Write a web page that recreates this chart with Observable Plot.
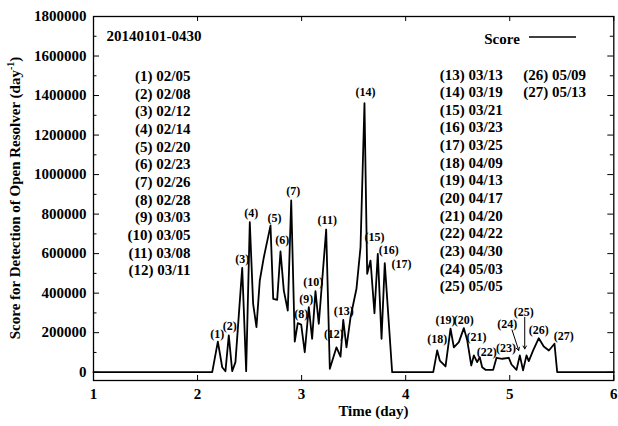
<!DOCTYPE html>
<html>
<head>
<meta charset="utf-8">
<script src="https://cdn.jsdelivr.net/npm/d3@7"></script>
<script src="https://cdn.jsdelivr.net/npm/@observablehq/plot@0.6"></script>
<style>
  html, body { margin: 0; padding: 0; background: white; }
  #chart { width: 618px; height: 426px; overflow: hidden; }
</style>
</head>
<body>
<div id="chart"></div>
<script>
// ---- data ----
const days = [1, 2.141, 2.195, 2.237, 2.268, 2.300, 2.333, 2.364, 2.429, 2.467,
  2.502, 2.534, 2.566, 2.598, 2.637, 2.701, 2.727, 2.765, 2.797, 2.829,
  2.867, 2.900, 2.934, 2.963, 2.996, 3.030, 3.069, 3.101, 3.133, 3.165,
  3.236, 3.271, 3.335, 3.374, 3.400, 3.431, 3.470, 3.527, 3.566, 3.604,
  3.630, 3.662, 3.700, 3.732, 3.768, 3.799, 3.870, 4.265, 4.303, 4.328,
  4.383, 4.431, 4.463, 4.511, 4.559, 4.592, 4.630, 4.655, 4.687, 4.712,
  4.735, 4.767, 4.841, 4.873, 4.928, 4.991, 5.017, 5.065, 5.097, 5.128,
  5.161, 5.183, 5.225, 5.279, 5.327, 5.376, 5.430, 5.456, 6];
const scores = [0, 0, 155000, 25000, 5000, 186000, 5000, 51000, 528000, 5000,
  759000, 346000, 228000, 464000, 582000, 742000, 371000, 366000, 611000, 413000,
  312000, 869000, 155000, 248000, 241000, 101000, 329000, 169000, 410000, 245000,
  722000, 17000, 126000, 79000, 265000, 126000, 278000, 422000, 632000, 1361000,
  498000, 565000, 298000, 599000, 169000, 552000, 0, 0, 110000, 59000,
  29000, 220000, 126000, 152000, 223000, 160000, 34000, 85000, 51000, 76000,
  25000, 12000, 12000, 73000, 68000, 73000, 39000, 12000, 85000, 9000,
  85000, 56000, 110000, 172000, 130000, 110000, 144000, 0, 0];

// event annotation labels and their anchor points (data units)
const eventLabels = ["(1)","(2)","(3)","(4)","(5)","(6)","(7)","(8)","(9)","(10)",
  "(11)","(12)","(13)","(14)","(15)","(16)","(17)","(18)","(19)","(20)",
  "(21)","(22)","(23)","(24)","(25)","(26)","(27)"];
const eventDays = [2.189, 2.310, 2.429, 2.515, 2.739, 2.813, 2.919, 2.996, 3.044, 3.111,
  3.246, 3.310, 3.406, 3.614, 3.700, 3.838, 3.960, 4.303, 4.383, 4.559,
  4.680, 4.780, 4.965, 4.975, 5.135, 5.279, 5.519];
const eventScores = [191000, 233000, 574000, 807000, 781000, 666000, 916000, 292000, 371000, 455000,
  768000, 191000, 307000, 1417000, 683000, 616000, 549000, 165000, 262000, 262000,
  178000, 102000, 123000, 241000, 304000, 215000, 181000];

// arrows for (24) and (25)
const arrowX1 = [5.022, 5.144];
const arrowY1 = [214000, 278000];
const arrowX2 = [5.086, 5.144];
const arrowY2 = [110000, 118000];

// event dates list
const eventDates = ["02/05","02/08","02/12","02/14","02/20","02/23","02/26","02/28","03/03","03/05",
  "03/08","03/11","03/13","03/19","03/21","03/23","03/25","04/09","04/13","04/17",
  "04/20","04/22","04/30","05/03","05/05","05/09","05/13"];

const xTicks = [1, 2, 3, 4, 5, 6];
const yMajorTicks = [0, 200000, 400000, 600000, 800000, 1000000, 1200000, 1400000, 1600000, 1800000];
const yMinorTicks = [100000, 300000, 500000, 700000, 900000, 1100000, 1300000, 1500000, 1700000];

const periodLabel = "20140101-0430";
const seriesName = "Score";
const xTitle = "Time (day)";

// ---- layout ----
const W = 618, H = 426;
const mL = 93, mR = 4.7, mT = 16, mB = 46;
const fw = W - mL - mR, fh = H - mT - mB;

const table = days.map((d, i) => ({day: d, score: scores[i]}));
const events = eventLabels.map((t, i) => ({label: t, day: eventDays[i], score: eventScores[i]}));
const arrows = arrowX1.map((x, i) => ({x1: x, y1: arrowY1[i], x2: arrowX2[i], y2: arrowY2[i]}));
const listLines = eventDates.map((d, i) => `(${i + 1}) ${d}`);
const col1 = listLines.slice(0, 12).join("\n");
const col2 = listLines.slice(12, 25).join("\n");
const col3 = listLines.slice(25).join("\n");

const font = "'Liberation Serif', 'Times New Roman', serif";
const lh = 17.65 / 15;

const chart = Plot.plot({
  width: W, height: H,
  marginLeft: mL, marginRight: mR, marginTop: mT, marginBottom: mB,
  style: {fontFamily: font, fontSize: "15px", fontWeight: "bold", background: "white", color: "black"},
  x: {domain: [1, 6], axis: null},
  y: {domain: [-42000, 1800000], axis: null},
  marks: [
    Plot.axisX({ticks: xTicks, tickSize: 0, tickPadding: 8, label: null, tickFormat: d3.format("d")}),
    Plot.axisY({ticks: yMajorTicks, tickSize: 0, tickPadding: 7, label: null, tickFormat: d3.format("d")}),
    // inward ticks on all sides
    Plot.tickY(yMajorTicks, {y: d => d, insetRight: fw - 6, stroke: "black", strokeWidth: 1}),
    Plot.tickY(yMinorTicks, {y: d => d, insetRight: fw - 3.5, stroke: "black", strokeWidth: 1}),
    Plot.tickY(yMajorTicks, {y: d => d, insetLeft: fw - 6, stroke: "black", strokeWidth: 1}),
    Plot.tickY(yMinorTicks, {y: d => d, insetLeft: fw - 3.5, stroke: "black", strokeWidth: 1}),
    Plot.tickX(xTicks, {x: d => d, insetTop: fh - 5, stroke: "black", strokeWidth: 1}),
    Plot.tickX(xTicks, {x: d => d, insetBottom: fh - 5, stroke: "black", strokeWidth: 1}),
    // event labels
    Plot.text(events, {x: "day", y: "score", text: "label", fontSize: 12, fontWeight: "bold", fill: "black"}),
    // series
    Plot.line(table, {x: "day", y: "score", stroke: "black", strokeWidth: 1.8}),
    Plot.arrow(arrows, {x1: "x1", y1: "y1", x2: "x2", y2: "y2", stroke: "black", strokeWidth: 1, headLength: 5}),
    Plot.frame({stroke: "black", strokeWidth: 1.3}),
    // text annotations
    Plot.text([periodLabel], {frameAnchor: "top-left", textAnchor: "start", lineAnchor: "top", dx: 13, dy: 13.8, fontSize: 15, fill: "black"}),
    Plot.text([col1], {frameAnchor: "top-left", textAnchor: "end", lineAnchor: "top", lineHeight: lh, dx: 97, dy: 52, fontSize: 15, fill: "black"}),
    Plot.text([col2], {frameAnchor: "top-left", textAnchor: "start", lineAnchor: "top", lineHeight: lh, dx: 346.3, dy: 50.5, fontSize: 15, fill: "black"}),
    Plot.text([col3], {frameAnchor: "top-left", textAnchor: "start", lineAnchor: "top", lineHeight: lh, dx: 429.7, dy: 50.5, fontSize: 15, fill: "black"}),
    Plot.text([seriesName], {frameAnchor: "top-right", textAnchor: "end", lineAnchor: "top", dx: -94, dy: 17, fontSize: 15, fill: "black"}),
    Plot.text([xTitle], {frameAnchor: "bottom", textAnchor: "middle", dx: 19.8, dy: 35, fontSize: 15, fill: "black"})
  ]
});

const svg = d3.select(chart);
// legend sample line
svg.append("line").attr("x1", 529).attr("x2", 576).attr("y1", 37).attr("y2", 37)
  .attr("stroke", "black").attr("stroke-width", 1.6);
// y-axis title with superscript
const yt = svg.append("text")
  .attr("transform", `translate(20,${mT + fh / 2}) rotate(-90)`)
  .attr("text-anchor", "middle")
  .attr("font-size", 15).attr("font-weight", "bold").attr("fill", "black");
yt.append("tspan").text("Score for Detection of Open Resolver (day");
yt.append("tspan").attr("font-size", 10).attr("dy", -6).text("-1");
yt.append("tspan").attr("dy", 6).text(")");

document.getElementById("chart").appendChild(chart);
</script>
</body>
</html>
